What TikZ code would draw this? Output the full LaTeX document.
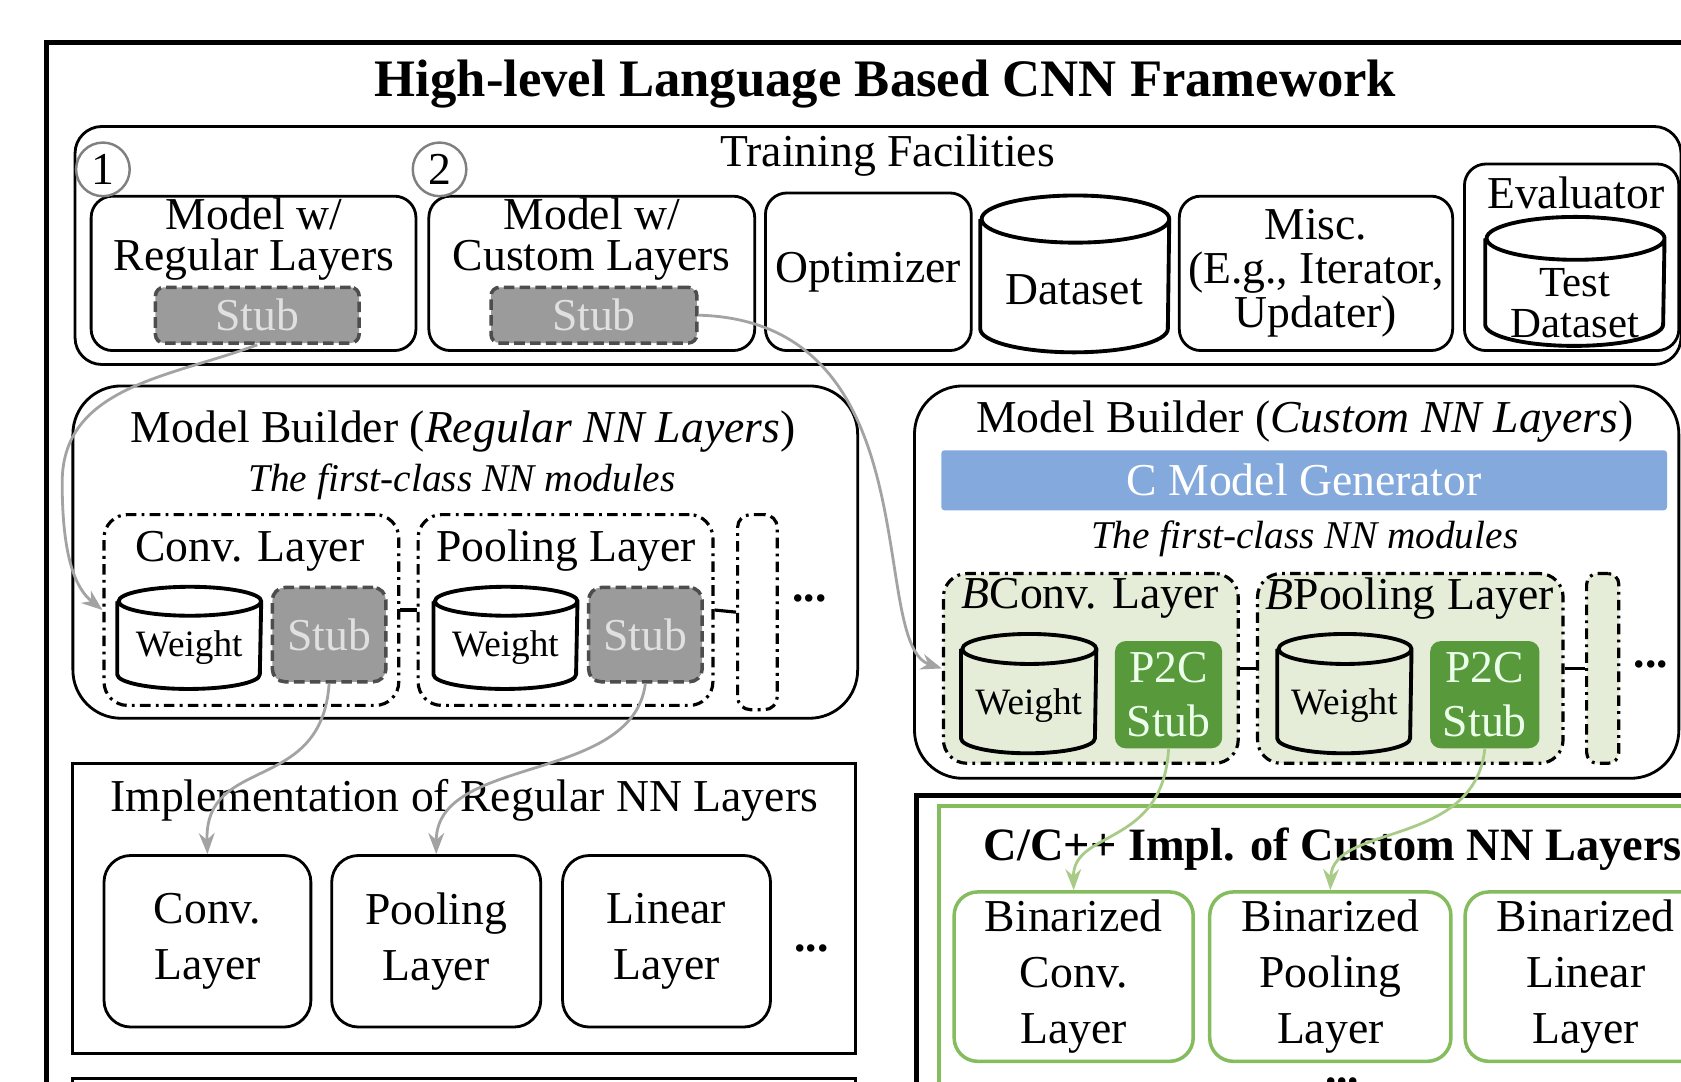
\documentclass[tikz,border=0pt]{standalone}
\usepackage{fontspec}
\setmainfont{Liberation Serif}
\usetikzlibrary{positioning,arrows.meta}
\newdimen\px \px=0.010721cm
\definecolor{stubgray}{HTML}{9B9B9B}
\definecolor{stubline}{HTML}{4D4D4D}
\definecolor{genblue}{HTML}{84A9DC}
\definecolor{lightgreen}{HTML}{E5EDD8}
\definecolor{p2cgreen}{HTML}{589A3B}
\definecolor{boxgreen}{HTML}{84BC5E}
\definecolor{arrowgray}{HTML}{A3A3A3}
\definecolor{arrowgreen}{HTML}{A8CC88}
% cylinder round a named node: name, x radius, y radius (in px)
\newcommand\drawcyl[3]{%
  \draw[line width=1.1pt] ([yshift=-#3\px]#1.north west) -- ([yshift=#3\px]#1.south west)
    arc[start angle=180,end angle=360,x radius=#2\px,y radius=#3\px]
    -- ([yshift=-#3\px]#1.north east)
    arc[start angle=0,end angle=360,x radius=#2\px,y radius=#3\px];}

\begin{document}
\begin{tikzpicture}[x=0.010721cm,y=-0.010721cm,>={Stealth[length=6pt,width=4.5pt]},
  every node/.style={inner sep=0pt,align=center,font=\fontsize{13}{12}\selectfont}]

    \tikzset{sz/.style 2 args={minimum width=#1\px,minimum height=#2\px},
      box/.style={draw,line width=0.8pt,rounded corners=20\px},
      tight/.style={font=\fontsize{13}{11.5}\selectfont},
      wide/.style={font=\fontsize{13}{15.9}\selectfont},
      subt/.style={font=\fontsize{11.2}{12}\selectfont\itshape},
      wtxt/.style={font=\fontsize{10.6}{12}\selectfont},
      circ/.style={circle,draw=gray,line width=0.7pt,minimum size=50\px},
      stubbox/.style={fill=stubgray,draw=stubline,line width=1pt,dash pattern=on 3pt off 1.5pt,
        rounded corners=8\px,text=white!88!black},
      group/.style={draw,line width=0.9pt,dash pattern=on 3pt off 1.5pt on 0.8pt off 1.5pt,rounded corners=22\px},
      p2c/.style={fill=p2cgreen,rounded corners=10\px,text=green!8!white,font=\fontsize{13}{15.2}\selectfont},
      gbox/.style={draw=boxgreen,line width=1pt,rounded corners=22\px},
      link/.style={->,draw=arrowgray,line width=0.8pt},
      glink/.style={link,draw=arrowgreen}}

    \useasboundingbox (0,0) rectangle (1568,1009);
    \clip (0,0) rectangle (1568,1009);

    \draw[line width=1.4pt] (43,1100) -- (43,40) -- (1650,40);
    \node[font=\fontsize{15}{15}\selectfont\bfseries] (title) at (826,78) {High-level Language Based CNN Framework};

    % training facilities
    \node[box,rounded corners=25\px,sz={1498}{222}] (train) at (819,229) {};
    \node (traintxt) at (828,145) {Training Facilities};
    \node[box,sz={303}{144}] (mreg) at (236.5,255) {};
    \node[tight] (mregtxt) at (237,223) {Model w/\\Regular Layers};
    \node[stubbox,sz={190}{52}] (stub1) at (240,294) {Stub};
    \node[box,sz={304}{144}] (mcus) at (552,255) {};
    \node[tight] (mcustxt) at (552,223) {Model w/\\Custom Layers};
    \node[stubbox,sz={192}{52}] (stub2) at (554,294) {Stub};
    \node[circ] (n1) at (96,158) {1};
    \node[circ] (n2) at (410,158) {2};
    \node[box,sz={192}{147}] (opt) at (810,253.5) {Optimizer};
    \node[sz={175}{145}] (data) at (1002.5,255.5) {};
    \drawcyl{data}{87.5}{22}
    \node (datatxt) at (1002,270) {Dataset};
    \node[box,font=\fontsize{13}{12.5}\selectfont,sz={255}{144}] (misc) at (1227.5,255) {Misc.\\(E.g., Iterator,\\Updater)};
    \node[box,sz={200}{174}] (eval) at (1466,240) {};
    \node (evaltxt) at (1470,180) {Evaluator};
    \node[sz={166}{119}] (test) at (1469,262.5) {};
    \drawcyl{test}{83}{20}
    \node[font=\fontsize{12.2}{11.6}\selectfont] (testtxt) at (1469,283) {Test\\Dataset};

    % model builder, regular layers
    \node[box,rounded corners=45\px,sz={732}{310}] (breg) at (434,515) {};
    \node (bregtxt) at (432,403) {Model Builder (\textit{Regular NN Layers})};
    \node[subt] (bregsub) at (431,449) {The first-class NN modules};
    \node[group,sz={275}{178}] (gconv) at (234.5,569) {};
    \node (gconvtxt) at (233,514) {Conv. Layer};
    \node[sz={133}{94}] (w1) at (176.5,595) {};
    \drawcyl{w1}{66.5}{13.5}
    \node[wtxt] (w1txt) at (176.5,604) {Weight};
    \node[stubbox,rounded corners=12\px,sz={106}{88}] (s1) at (307,592) {Stub};
    \node[group,sz={275}{178}] (gpool) at (527.5,569) {};
    \node (gpooltxt) at (528,514) {Pooling Layer};
    \node[sz={133}{94}] (w2) at (471.5,595) {};
    \drawcyl{w2}{66.5}{13.5}
    \node[wtxt] (w2txt) at (471.5,604) {Weight};
    \node[stubbox,rounded corners=12\px,sz={106}{88}] (s2) at (602,592) {Stub};
    \node[group,rounded corners=12\px,sz={37}{182}] (gmore1) at (706.5,571) {};
    \node (dots1) at (755,558) {\textbf{...}};
    \draw[line width=0.9pt] (gconv.east) -- (gpool.west);
    \draw[line width=0.9pt] (gpool.east) -- (gmore1.west);

    % model builder, custom layers
    \node[box,rounded corners=45\px,sz={713}{366}] (bcus) at (1209.5,543) {};
    \node (bcustxt) at (1217,393) {Model Builder (\textit{Custom NN Layers})};
    \node[fill=genblue,rounded corners=3\px,sz={677}{56},text=white] (cgen) at (1216.5,448) {C Model Generator};
    \node[subt] (bcussub) at (1217,503) {The first-class NN modules};
    \node[group,fill=lightgreen,sz={275}{177}] (bconv) at (1017.5,623.5) {};
    \node (bconvtxt) at (1017,558) {\textit{B}Conv. Layer};
    \node[sz={125}{110}] (w3) at (959.5,647) {};
    \drawcyl{w3}{62.5}{14}
    \node[wtxt] (w3txt) at (959.5,658) {Weight};
    \node[p2c,sz={100}{100}] (p1) at (1090,648) {P2C\\Stub};
    \node[group,fill=lightgreen,sz={285}{177}] (bpool) at (1315.5,623.5) {};
    \node (bpooltxt) at (1315,558) {\textit{B}Pooling Layer};
    \node[sz={124}{110}] (w4) at (1254,647) {};
    \drawcyl{w4}{62}{14}
    \node[wtxt] (w4txt) at (1254,658) {Weight};
    \node[p2c,sz={102}{100}] (p2) at (1385,648) {P2C\\Stub};
    \node[group,fill=lightgreen,rounded corners=10\px,sz={30}{177}] (bmore) at (1495,623.5) {};
    \node (dots2) at (1540,620) {\textbf{...}};
    \draw[line width=0.9pt] (bconv.east) -- (bpool.west);
    \draw[line width=0.9pt] (bpool.east) -- (bmore.west);

    % implementation of regular layers
    \node[draw,line width=0.9pt,sz={730}{271}] (ireg) at (433,847.5) {};
    \node (iregtxt) at (433,747) {Implementation of Regular NN Layers};
    \node[box,wide,rounded corners=25\px,sz={193}{160}] (iconv) at (193.5,878) {Conv.\\Layer};
    \node[box,wide,rounded corners=25\px,sz={195}{160},right=0.18cm of iconv] (ipool) {Pooling\\Layer};
    \node[box,wide,rounded corners=25\px,sz={194}{160},right=0.19cm of ipool] (ilin) {Linear\\Layer};
    \node (dots3) at (757,885) {\textbf{...}};
    \node[draw,line width=0.9pt,sz={730}{100}] (inext) at (433,1056) {};

    % c/c++ implementation of custom layers
    \node[draw,line width=1.4pt,sz={795}{358}] (icus) at (1252.5,921) {};
    \node[draw=boxgreen,line width=1pt,sz={764}{338}] (icusin) at (1258,921) {};
    \node[anchor=west,font=\fontsize{13.2}{13}\selectfont\bfseries] (icustxt) at (917,792) {C/C++ Impl. of Custom NN Layers};
    \node[gbox,wide,sz={223}{158}] (bc1) at (1001.5,911) {Binarized\\Conv.\\Layer};
    \node[gbox,wide,sz={225}{158},right=0.13cm of bc1] (bc2) {Binarized\\Pooling\\Layer};
    \node[gbox,wide,sz={225}{158},right=0.107cm of bc2] (bc3) {Binarized\\Linear\\Layer};
    \node (dots4) at (1252,1009) {\textbf{...}};

    % stub links
    \coordinate (bend1) at (58,450);
    \draw[link] (stub1.south) .. controls +(-80,30) and +(0,-90) .. (bend1)
      .. controls +(0,70) and +(-25,-20) .. (gconv.west);
    \draw[link] (stub2.east) .. controls +(220,6) and +(-70,-23) .. (bconv.west);
    \draw[link] (s1.south) .. controls +(-7,104) and +(-3,-93) .. (iconv.north);
    \draw[link] (s2.south) .. controls +(-12,94) and +(0,-93) .. (ipool.north);
    \draw[glink] (p1.south) .. controls +(-5,92) and +(-1,-57) .. (bc1.north);
    \draw[glink] (p2.south) .. controls +(-10,92) and +(2,-62) .. (bc2.north);
  \end{tikzpicture}
\end{document}
